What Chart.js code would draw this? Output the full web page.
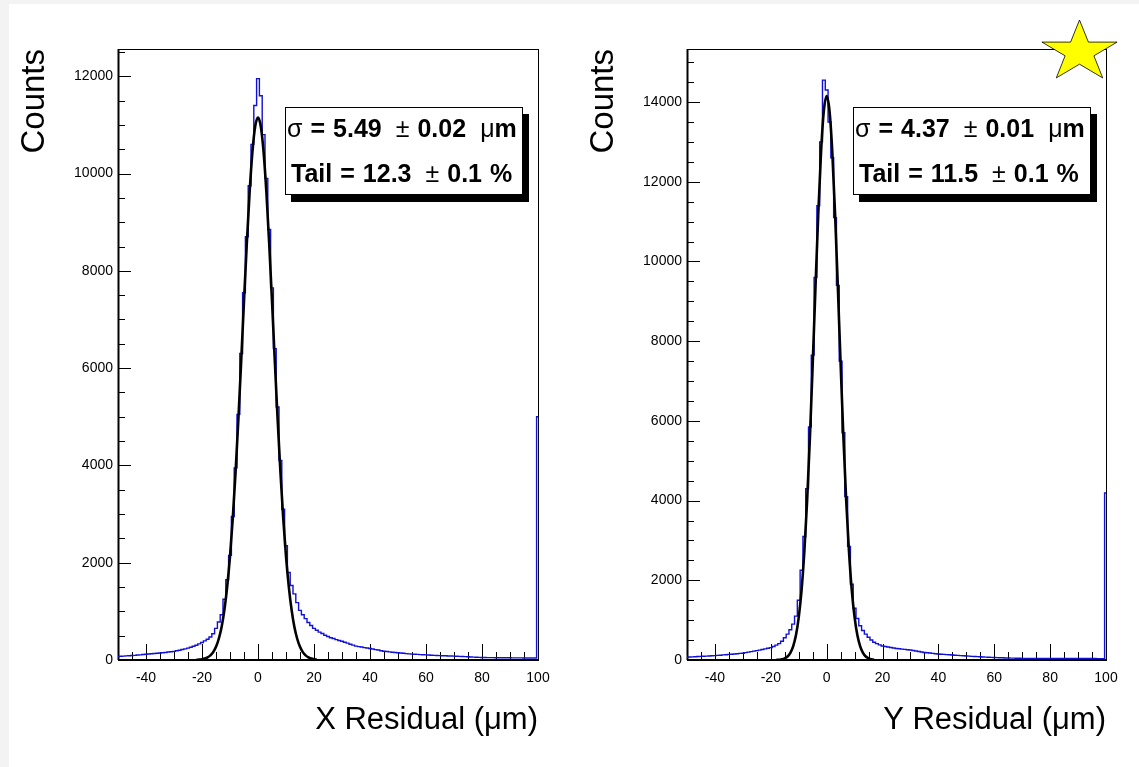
<!DOCTYPE html>
<html>
<head>
<meta charset="utf-8">
<script src="https://cdn.jsdelivr.net/npm/chart.js@4/dist/chart.umd.min.js"></script>
<style>
  html,body{margin:0;padding:0;}
  body{width:1139px;height:767px;background:#f3f3f3;position:relative;overflow:hidden;font-family:"Liberation Sans",Arial,sans-serif;}
  #page{position:absolute;left:9px;top:4px;width:1130px;height:763px;background:#fff;}
  canvas{position:absolute;top:0;}
  #c1{left:0;} #c2{left:569px;}
  .stat{position:absolute;background:#fff;border:1px solid #000;box-shadow:6px 7px 0 #000;
        font-weight:bold;font-size:25px;color:#000;white-space:pre;}
  .stat div{position:absolute;left:1px;}
  .stat .r{font-weight:normal;}
  .stat .g{display:inline-block;width:14px;}
  .stat .h{display:inline-block;width:8px;}
  #star{position:absolute;left:0;top:0;}
</style>
</head>
<body>
<div id="page"></div>
<canvas id="c1" width="569" height="767"></canvas>
<canvas id="c2" width="570" height="767"></canvas>
<div class="stat" id="s1" style="left:285px;top:107px;width:236px;height:86px;">
  <div style="top:6px"><span class="r">σ</span><span class="h"></span>=<span class="h"></span>5.49<span class="g"></span><span class="r">±</span><span class="h"></span>0.02<span class="g"></span><span class="r">μ</span>m</div>
  <div style="top:51px;left:5px">Tail<span class="h"></span>=<span class="h"></span>12.3<span class="g"></span><span class="r">±</span><span class="h"></span>0.1<span class="h"></span>%</div>
</div>
<div class="stat" id="s2" style="left:853px;top:107px;width:236px;height:86px;">
  <div style="top:6px"><span class="r">σ</span><span class="h"></span>=<span class="h"></span>4.37<span class="g"></span><span class="r">±</span><span class="h"></span>0.01<span class="g"></span><span class="r">μ</span>m</div>
  <div style="top:51px;left:5px">Tail<span class="h"></span>=<span class="h"></span>11.5<span class="g"></span><span class="r">±</span><span class="h"></span>0.1<span class="h"></span>%</div>
</div>
<svg id="star" width="1139" height="767"><polygon id="starPoly" fill="#ffff00" stroke="#000" stroke-width="0.8"/></svg>
<script>
// ---- binning (1 µm bins, centres from -50 to 100) ----
const binStart = -50, binEnd = 100;
const binCenters = [];
for (let c = binStart; c <= binEnd; c++) binCenters.push(c);

// ---- X residual histogram counts (bin centre -50 ... 100) ----
const xResidualCounts = [
  70,76,80,85,88,93,96,103,106,112,
  118,122,129,133,139,143,150,155,163,170,
  178,189,199,215,228,245,261,283,303,331,
  360,393,427,472,540,650,780,930,1250,1650,
  2150,2950,3950,5050,6300,7550,8700,9750,10600,11400,
  11950,11600,10800,9900,8850,7650,6400,5200,4100,3100,
  2350,1800,1530,1360,1180,1020,930,850,770,710,
  650,612,573,546,508,482,458,441,418,401,
  385,364,346,324,306,286,274,266,254,246,
  235,226,214,206,190,181,174,166,160,154,
  150,145,139,131,125,121,117,115,110,107,
  105,102,99,96,93,90,88,86,83,82,
  80,77,75,72,70,66,63,60,57,54,
  51,50,49,48,48,47,47,46,46,45,
  45,44,44,43,43,42,42,41,41,40,
  5000
];
// ---- Y residual histogram counts (bin centre -50 ... 100) ----
const yResidualCounts = [
  70,74,79,82,86,90,95,98,102,106,
  110,116,121,128,133,140,145,151,158,165,
  170,185,198,211,222,235,249,262,280,295,
  310,340,372,410,470,560,650,760,900,1100,
  1500,2250,3100,4300,5850,7650,9600,11400,13000,14550,
  14300,13500,12600,11100,9400,7500,5700,4100,2850,1900,
  1300,1040,860,740,650,570,500,445,410,380,
  350,340,325,312,300,290,282,274,266,258,
  250,238,226,214,202,190,182,174,166,158,
  150,145,140,135,130,125,120,115,110,105,
  100,96,92,88,84,80,76,72,68,65,
  62,60,58,55,52,50,48,46,45,43,
  42,42,41,41,41,40,40,40,40,40,
  40,39,39,39,38,38,38,38,38,37,
  37,37,37,36,36,36,36,35,35,35,
  4190
];

// ---- fitted curves ----
const xFitX = [-22,-21,-20,-19,-18,-17,-16,-15,-14,-13,-12,-11,-10,-9,-8,-7,-6,-5,-4,-3,-2,-1,0,
               1,2,3,4,5,6,7,8,9,10,11,12,13,14,15,16,17,18,19,20,21];
const xFitY = [4,8,15,29,53,94,162,271,437,680,1030,1510,2130,2920,3870,4960,6150,7380,8560,9610,10440,10970,11150,
               10970,10440,9610,8560,7380,6150,4960,3870,2920,2130,1510,1030,680,437,271,162,94,53,29,15,8];
const yFitX = [-18,-17,-16,-15,-14,-13,-12,-11,-10,-9,-8,-7,-6,-5,-4,-3,-2,-1,0,
               1,2,3,4,5,6,7,8,9,10,11,12,13,14,15,16,17];
const yFitY = [3,8,19,42,89,180,343,620,1070,1740,2710,3990,5580,7420,9360,11210,12760,13790,14150,
               13790,12760,11210,9360,7420,5580,3990,2710,1740,1070,620,343,180,89,42,19,8];

// ---- axis settings ----
const xTickLabels = [-40,-20,0,20,40,60,80,100];
const leftYTickLabels = [0,2000,4000,6000,8000,10000,12000];
const rightYTickLabels = [0,2000,4000,6000,8000,10000,12000,14000];
const leftYMax = 12560, rightYMax = 15330;

function histPoints(centers, counts) {
  const pts = centers.map((c, i) => ({x: c - 0.5, y: counts[i]}));
  pts.push({x: centers[centers.length - 1] + 0.5, y: counts[counts.length - 1]});
  return pts;
}
function fitPoints(xs, ys) { return xs.map((x, i) => ({x, y: ys[i]})); }

const rootFrame = {
  id: 'rootFrame',
  beforeDatasetsDraw(chart, args, o) {
    const {ctx, chartArea: a, scales: {x, y}} = chart;
    ctx.save();
    ctx.strokeStyle = '#000';
    ctx.lineWidth = 1;
    ctx.beginPath();
    for (let v = o.xMin; v <= o.xMax + 1e-9; v += o.xMinor) {
      const px = Math.round(x.getPixelForValue(v)) + 0.5;
      const major = Math.abs(((v % o.xMajor) + o.xMajor) % o.xMajor) < 1e-9;
      ctx.moveTo(px, a.bottom);
      ctx.lineTo(px, a.bottom - (major ? 16 : 8));
    }
    for (let v = 0; v <= o.yMax + 1e-9; v += o.yMinor) {
      const py = Math.round(y.getPixelForValue(v)) + 0.5;
      const major = Math.abs(v % o.yMajor) < 1e-9;
      ctx.moveTo(a.left, py);
      ctx.lineTo(a.left + (major ? 13 : 7), py);
    }
    ctx.stroke();
    // frame
    ctx.strokeRect(Math.round(a.left) + 0.5, Math.round(a.top) + 0.5,
                   Math.round(a.right - a.left), Math.round(a.bottom - a.top));
    ctx.lineWidth = 2;
    ctx.beginPath();
    ctx.moveTo(a.left, a.bottom); ctx.lineTo(a.right, a.bottom);
    ctx.moveTo(a.left + 0.5, a.top); ctx.lineTo(a.left + 0.5, a.bottom);
    ctx.stroke();
    ctx.restore();
  }
};

const FONT = "'Liberation Sans', Arial, Helvetica, sans-serif";

function makeChart(id, counts, fx, fy, yMax, yLabels, xTitle, padRight) {
  return new Chart(document.getElementById(id), {
    type: 'line',
    data: {
      datasets: [
        {data: histPoints(binCenters, counts), stepped: true, borderColor: '#1010d8',
         borderWidth: 1.4, pointRadius: 0, fill: false, order: 2},
        {data: fitPoints(fx, fy), borderColor: '#000', borderWidth: 2.6,
         cubicInterpolationMode: 'monotone', pointRadius: 0, fill: false, order: 1}
      ]
    },
    options: {
      responsive: false, animation: false, events: [],
      layout: {padding: {left: 0, right: padRight, top: 49, bottom: 27}},
      plugins: {legend: {display: false}, tooltip: {enabled: false},
        rootFrame: {xMin: -50, xMax: 100, xMinor: 5, xMajor: 20, yMax: yMax, yMinor: 500, yMajor: 2000}},
      scales: {
        x: {type: 'linear', min: binStart, max: binEnd,
            grid: {display: false, drawTicks: false}, border: {display: false},
            afterFit: s => { s.height = 80; },
            afterBuildTicks: s => { s.ticks = xTickLabels.map(v => ({value: v})); },
            ticks: {padding: 10, color: '#000', font: {family: FONT, size: 14},
                    callback: v => String(v)},
            title: {display: true, text: xTitle, align: 'end', color: '#000',
                    font: {family: FONT, size: 31}, padding: {top: 0, bottom: 1}}},
        y: {type: 'linear', min: 0, max: yMax,
            grid: {display: false, drawTicks: false}, border: {display: false},
            afterFit: s => { s.width = 118; },
            afterBuildTicks: s => { s.ticks = yLabels.map(v => ({value: v})); },
            ticks: {padding: 5, color: '#000', font: {family: FONT, size: 14},
                    callback: v => String(v)},
            title: {display: true, text: 'Counts', align: 'end', color: '#000',
                    font: {family: FONT, size: 33}, padding: {top: 15, bottom: 0}}}
      }
    },
    plugins: [rootFrame]
  });
}

makeChart('c1', xResidualCounts, xFitX, xFitY, leftYMax, leftYTickLabels, 'X Residual (μm)', 31);
makeChart('c2', yResidualCounts, yFitX, yFitY, rightYMax, rightYTickLabels, 'Y Residual (μm)', 33);

// decorative star (top-right corner)
(function () {
  const cx = 1079.5, cy = 52, rx = 39.5, ry = 32, k = 0.382;
  const pts = [];
  for (let i = 0; i < 10; i++) {
    const ang = -Math.PI / 2 + i * Math.PI / 5;
    const f = i % 2 ? k : 1;
    pts.push((cx + rx * f * Math.cos(ang)).toFixed(1) + ',' + (cy + ry * f * Math.sin(ang)).toFixed(1));
  }
  document.getElementById('starPoly').setAttribute('points', pts.join(' '));
})();
</script>
</body>
</html>
